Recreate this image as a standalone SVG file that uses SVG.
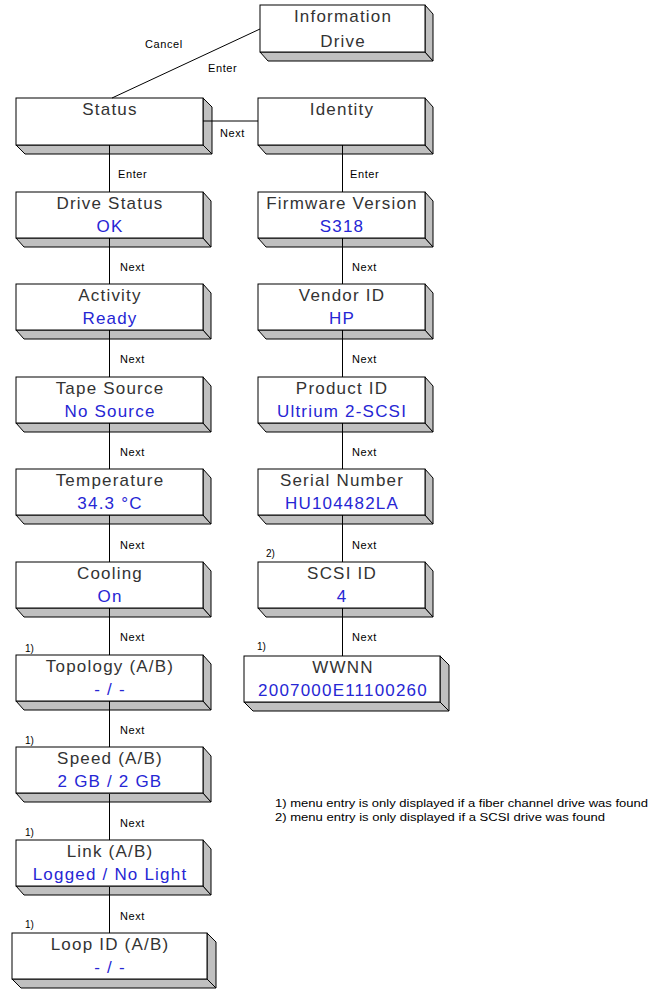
<svg xmlns="http://www.w3.org/2000/svg" width="654" height="989" viewBox="0 0 654 989">
<style>
.f{fill:#fff;stroke:#000;stroke-width:1}
.s{fill:#c0c0c0;stroke:#000;stroke-width:1;stroke-linejoin:miter}
.t{font-family:"Liberation Sans",Arial,sans-serif;font-size:17px;fill:#333;text-anchor:middle;letter-spacing:1.2px}
.v{font-family:"Liberation Sans",Arial,sans-serif;font-size:17px;fill:#2626d4;text-anchor:middle;letter-spacing:1.2px}
.l{font-family:"Liberation Sans",Arial,sans-serif;font-size:11px;fill:#000;letter-spacing:0.6px}
.c{stroke:#000;stroke-width:1;fill:none}
.n{font-family:"Liberation Sans",Arial,sans-serif;font-size:10px;fill:#000}
</style>
<defs>
<g id="boxL">
<polygon class="s" points="0,46 187,46 195,55 8,55"/>
<polygon class="s" points="187,0 195,9 195,55 187,46"/>
<rect class="f" x="0" y="0" width="187" height="46"/>
</g>
<g id="boxR">
<polygon class="s" points="0,46 167,46 175,55 8,55"/>
<polygon class="s" points="167,0 175,9 175,55 167,46"/>
<rect class="f" x="0" y="0" width="167" height="46"/>
</g>
</defs>

<g id="info-drive">
<polygon class="s" points="260,52 425,52 433,61 268,61"/>
<polygon class="s" points="425,5 433,14 433,61 425,52"/>
<rect class="f" x="260" y="5" width="165" height="47"/>
<text class="t" x="343" y="22">Information</text>
<text class="t" x="343" y="47">Drive</text>
</g>

<g id="status">
<polygon class="s" points="16,145 203,145 212,154 25,154"/>
<polygon class="s" points="203,98 212,107 212,154 203,145"/>
<rect class="f" x="16" y="98" width="187" height="47"/>
<text class="t" x="110" y="115">Status</text>
</g>

<g id="identity">
<polygon class="s" points="258,145 425,145 433,154 266,154"/>
<polygon class="s" points="425,98 433,107 433,154 425,145"/>
<rect class="f" x="258" y="98" width="167" height="47"/>
<text class="t" x="342" y="115">Identity</text>
</g>

<g id="drive-status"><use href="#boxL" x="16" y="192"/><text class="t" x="110" y="209">Drive Status</text><text class="v" x="110" y="232">OK</text></g>
<g id="activity"><use href="#boxL" x="16" y="284"/><text class="t" x="110" y="301">Activity</text><text class="v" x="110" y="324">Ready</text></g>
<g id="tape-source"><use href="#boxL" x="16" y="377"/><text class="t" x="110" y="394">Tape Source</text><text class="v" x="110" y="417">No Source</text></g>
<g id="temperature"><use href="#boxL" x="16" y="469"/><text class="t" x="110" y="486">Temperature</text><text class="v" x="110" y="509">34.3 °C</text></g>
<g id="cooling"><use href="#boxL" x="16" y="562"/><text class="t" x="110" y="579">Cooling</text><text class="v" x="110" y="602">On</text></g>
<g id="topology"><use href="#boxL" x="16" y="655"/><text class="t" x="110" y="672">Topology (A/B)</text><text class="v" x="110" y="695">- / -</text></g>
<g id="speed"><use href="#boxL" x="16" y="747"/><text class="t" x="110" y="764">Speed (A/B)</text><text class="v" x="110" y="787">2 GB / 2 GB</text></g>
<g id="link"><use href="#boxL" x="16" y="840"/><text class="t" x="110" y="857">Link (A/B)</text><text class="v" x="110" y="880">Logged / No Light</text></g>
<g id="loop-id">
<polygon class="s" points="12,979 207,979 216,988 21,988"/>
<polygon class="s" points="207,933 216,942 216,988 207,979"/>
<rect class="f" x="12" y="933" width="195" height="46"/>
<text class="t" x="110" y="950">Loop ID (A/B)</text><text class="v" x="110" y="973">- / -</text>
</g>

<g id="firmware-version"><use href="#boxR" x="258" y="192"/><text class="t" x="342" y="209">Firmware Version</text><text class="v" x="342" y="232">S318</text></g>
<g id="vendor-id"><use href="#boxR" x="258" y="284"/><text class="t" x="342" y="301">Vendor ID</text><text class="v" x="342" y="324">HP</text></g>
<g id="product-id"><use href="#boxR" x="258" y="377"/><text class="t" x="342" y="394">Product ID</text><text class="v" x="342" y="417">Ultrium 2-SCSI</text></g>
<g id="serial-number"><use href="#boxR" x="258" y="469"/><text class="t" x="342" y="486">Serial Number</text><text class="v" x="342" y="509">HU104482LA</text></g>
<g id="scsi-id"><use href="#boxR" x="258" y="562"/><text class="t" x="342" y="579">SCSI ID</text><text class="v" x="342" y="602">4</text></g>
<g id="wwnn">
<polygon class="s" points="244,702 440,702 449,711 253,711"/>
<polygon class="s" points="440,656 449,665 449,711 440,702"/>
<rect class="f" x="244" y="656" width="196" height="46"/>
<text class="t" x="343" y="673">WWNN</text><text class="v" x="343" y="696">2007000E11100260</text>
</g>

<g id="connectors">
<line class="c" x1="112" y1="98" x2="260" y2="29"/>
<line class="c" x1="203" y1="121" x2="258" y2="121"/>
<path class="c" d="M109.5,145V192M109.5,238V284M109.5,330V377M109.5,423V469M109.5,515V562M109.5,608V655M109.5,701V747M109.5,794V840M109.5,887V933"/>
<path class="c" d="M342.5,145V192M342.5,238V284M342.5,330V377M342.5,423V469M342.5,515V562M342.5,608V656"/>
<text class="l" x="145" y="48">Cancel</text>
<text class="l" x="208" y="72">Enter</text>
<text class="l" x="220" y="137">Next</text>
<text class="l" x="118" y="178">Enter</text>
<text class="l" x="350" y="178">Enter</text>
<text class="l" x="120" y="271">Next</text>
<text class="l" x="120" y="363">Next</text>
<text class="l" x="120" y="456">Next</text>
<text class="l" x="120" y="549">Next</text>
<text class="l" x="120" y="641">Next</text>
<text class="l" x="120" y="734">Next</text>
<text class="l" x="120" y="827">Next</text>
<text class="l" x="120" y="920">Next</text>
<text class="l" x="352" y="271">Next</text>
<text class="l" x="352" y="363">Next</text>
<text class="l" x="352" y="456">Next</text>
<text class="l" x="352" y="549">Next</text>
<text class="l" x="352" y="641">Next</text>
</g>

<g id="footnote-marks">
<text class="n" x="25" y="652">1)</text>
<text class="n" x="25" y="744">1)</text>
<text class="n" x="25" y="836">1)</text>
<text class="n" x="25" y="928">1)</text>
<text class="n" x="266" y="557">2)</text>
<text class="n" x="257" y="650">1)</text>
</g>

<g id="legend">
<text class="n" x="275" y="807" textLength="373" lengthAdjust="spacingAndGlyphs">1) menu entry is only displayed if a fiber channel drive was found</text>
<text class="n" x="275" y="821" textLength="330" lengthAdjust="spacingAndGlyphs">2) menu entry is only displayed if a SCSI drive was found</text>
</g>
</svg>
